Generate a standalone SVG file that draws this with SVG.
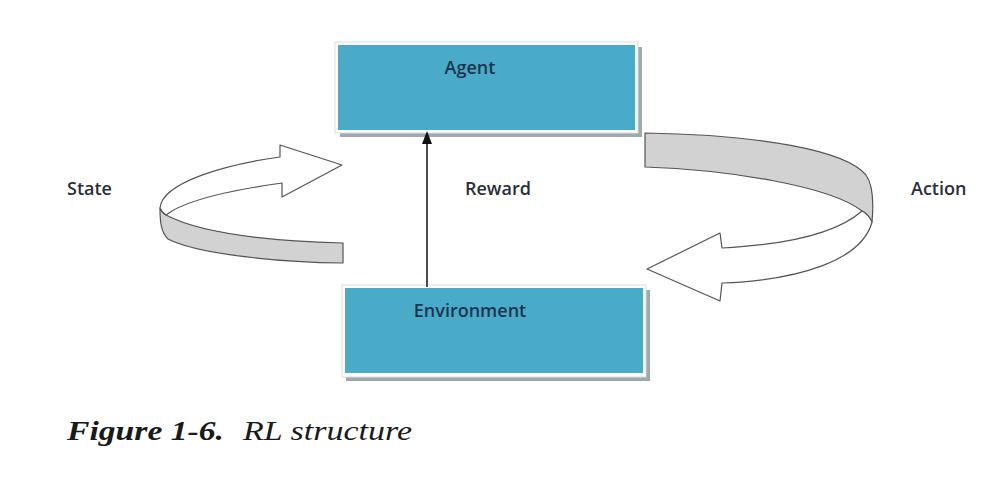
<svg xmlns="http://www.w3.org/2000/svg" width="999" height="481" viewBox="0 0 999 481">
<style>
.shadow{fill:#9ea8ae}
.frame{fill:#ffffff;stroke:#d8dde0;stroke-width:1}
.box{fill:#4aabc8}
.nodetext{font-family:"Open Sans","Liberation Sans",sans-serif;font-size:18px;font-weight:600;fill:#1b3550;text-anchor:middle}
.label{font-family:"Open Sans","Liberation Sans",sans-serif;font-size:18px;font-weight:600;fill:#2a2f38}
.band{fill:#d2d2d2;stroke:#555;stroke-width:1.2;stroke-linejoin:round}
.front{fill:#ffffff;stroke:#555;stroke-width:1.2;stroke-linejoin:round}
.cap{font-family:"Liberation Serif",serif;font-size:28px;font-style:italic;fill:#1a1a1a}
</style>
<defs>
<clipPath id="clipR"><rect x="0" y="0" width="968" height="481"/></clipPath>
</defs>
<rect width="999" height="481" fill="#ffffff"/>

<g id="agent">
<rect class="shadow" x="340" y="47" width="302" height="90"/>
<rect class="frame" x="335" y="42" width="303" height="91"/>
<rect class="box" x="338" y="45" width="297" height="85"/>
<text class="nodetext" x="470" y="74">Agent</text>
</g>

<g id="environment">
<rect class="shadow" x="346" y="290" width="304" height="91"/>
<rect class="frame" x="342" y="285" width="304" height="92"/>
<rect class="box" x="345" y="288" width="298" height="85"/>
<text class="nodetext" x="470" y="317">Environment</text>
</g>

<g id="connectors">
<g id="reward-arrow">
<line x1="427" y1="287" x2="427" y2="140" stroke="#111" stroke-width="1.5"/>
<polygon points="427,131 432,144 422,144" fill="#111"/>
</g>
<g id="state-arrow">
<path class="band" d="M160,208 C160,222 161,232 168,239 C195,253 270,262 343,263 L343,243 C270,241 200,233 166,215 C163,213 161,211 160,208 Z"/>
<path class="front" d="M160,208 C162,182 228,164 280,157 L280,145 L342,165 L282,197 L282,183 C232,190 185,200 166,215 C163,213 161,211 160,208 Z"/>
</g>
<g id="action-arrow">
<path class="band" d="M645,133 C760,135 845,150 866,175 C873,185 874,200 872,222 C869,216 866,213 862,211 C830,186 730,170 645,167 Z"/>
<path class="front" d="M862,211 C835,235 780,245 722,248 L720,233 L647,269 L720,301 L722,283 C800,280 862,260 872,222 C869,216 866,213 862,211 Z"/>
</g>
</g>

<g id="labels">
<text class="label" x="67" y="195">State</text>
<text class="label" x="465" y="195">Reward</text>
<text class="label" x="911" y="195" clip-path="url(#clipR)">Action</text>
</g>

<g id="caption">
<text class="cap" x="67" y="440" font-weight="bold" textLength="157" lengthAdjust="spacingAndGlyphs">Figure 1-6.</text>
<text class="cap" x="243" y="440" textLength="169" lengthAdjust="spacingAndGlyphs">RL structure</text>
</g>
</svg>
